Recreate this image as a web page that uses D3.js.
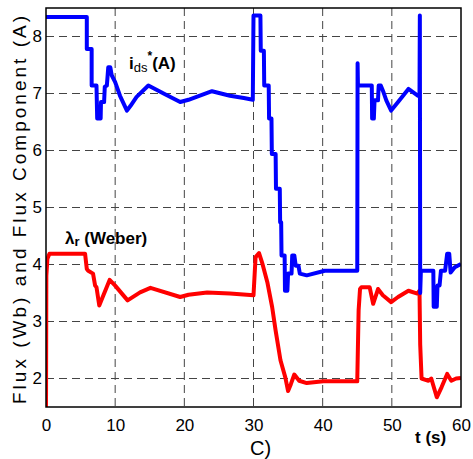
<!DOCTYPE html>
<html>
<head>
<meta charset="utf-8">
<script src="https://cdn.jsdelivr.net/npm/d3@7"></script>
<style>
  html, body { margin: 0; padding: 0; background: #fff; }
  svg { display: block; }
  text { font-family: Arial, "Liberation Sans", sans-serif; }
</style>
</head>
<body>
<svg id="chart" width="473" height="459"></svg>
<script>
// ---- data ----
const xTicks = [0, 10, 20, 30, 40, 50, 60];
const yTicks = [2, 3, 4, 5, 6, 7, 8];

const idsTime = [0, 5.9, 5.9, 6.6, 6.6, 7.3, 7.4, 7.9, 7.95, 8.4, 8.5, 8.8, 9.0, 9.3, 9.5, 10.0, 10.7, 11.7, 12.2, 13.1, 14.8, 17.0, 19.4, 20.6, 24.0, 26.6, 28.6, 29.9,
  30.0, 31.0, 31.05, 31.5, 31.55, 32.2, 32.25, 32.6, 32.65, 33.2, 33.25, 33.8, 33.85, 34.0, 34.05, 34.5, 34.55, 34.9, 35.0, 35.5, 35.6, 35.9, 36.1, 36.5, 36.7, 37.7, 40.3, 45.0,
  45.05, 45.1, 47.1, 47.15, 47.4, 47.5, 48.0, 48.1, 48.4, 48.8, 49.2, 49.9, 50.9, 52.4, 53.8, 54.0, 54.05, 54.1, 54.2, 56.0, 56.05, 56.5, 56.6, 56.9, 57.1, 57.7, 58.0, 58.3, 58.5, 59.1, 60];
const idsValues = [8.34, 8.34, 7.78, 7.78, 7.14, 7.14, 6.56, 6.56, 6.85, 6.85, 7.12, 7.14, 7.46, 7.46, 7.32, 7.2, 6.96, 6.70, 6.78, 6.94, 7.14, 7.0, 6.85, 6.89, 7.04, 6.96, 6.92, 6.89,
  8.37, 8.37, 7.75, 7.75, 7.14, 7.14, 6.56, 6.56, 5.94, 5.94, 5.33, 5.33, 4.74, 4.74, 4.16, 4.16, 3.54, 3.54, 3.84, 3.84, 4.16, 4.16, 3.98, 3.98, 3.84, 3.81, 3.89, 3.89,
  7.53, 7.14, 7.14, 6.56, 6.56, 6.88, 6.88, 7.14, 7.14, 7.02, 6.88, 6.70, 6.85, 7.08, 6.96, 6.96, 8.37, 3.5, 3.89, 3.89, 3.26, 3.26, 3.63, 3.63, 3.89, 3.89, 4.19, 4.19, 3.86, 3.95, 4.01];

const fluxTime = [0, 0.05, 0.2, 0.5, 5.65, 5.9, 6.1, 6.8, 7.1, 7.3, 7.7, 8.3, 8.7, 9.2, 10.0, 11.8, 13.6, 15.1, 19.4, 20.6, 23.3, 26.6, 30.0,
  30.3, 30.8, 31.3, 32.0, 32.7, 33.2, 33.9, 34.6, 35.0, 35.4, 35.9, 36.6, 37.7, 40.1, 45.0, 45.2, 45.4, 45.6, 46.8, 47.3, 48.0, 48.7, 49.9, 50.9, 52.4, 53.7, 54.0,
  54.1, 54.3, 55.3, 55.7, 56.5, 57.2, 58.0, 58.6, 59.3, 60];
const fluxValues = [1.5, 3.8, 4.1, 4.19, 4.19, 3.92, 3.89, 3.84, 3.63, 3.6, 3.28, 3.46, 3.58, 3.73, 3.63, 3.37, 3.51, 3.59, 3.43, 3.47, 3.51, 3.49, 3.46,
  4.13, 4.20, 4.01, 3.69, 3.25, 2.84, 2.32, 2.02, 1.78, 1.90, 2.07, 1.96, 1.92, 1.95, 1.95, 3.2, 3.57, 3.60, 3.60, 3.31, 3.57, 3.46, 3.34, 3.43, 3.54, 3.49, 3.54,
  2.6, 2.0, 1.96, 2.0, 1.67, 1.85, 2.08, 1.96, 2.0, 2.01];

// ---- chart ----
const svg = d3.select("#chart");
const mL = 46, mR = 461, mT = 8, mB = 407;
const x = d3.scaleLinear().domain([0, 60]).range([mL, mR]);
const y = d3.scaleLinear().domain([1.5, 8.5]).range([mB, mT]);

svg.append("defs").append("clipPath").attr("id", "clip")
  .append("rect").attr("x", mL).attr("y", mT).attr("width", mR - mL).attr("height", mB - mT);

// grid
const grid = svg.append("g");
grid.selectAll("line.vx").data(xTicks.slice(1, -1)).join("line")
  .attr("x1", d => x(d)).attr("x2", d => x(d)).attr("y1", mT).attr("y2", mB)
  .attr("stroke", "#444").attr("stroke-width", 1).attr("stroke-dasharray", "8,5");
grid.selectAll("line.hy").data(yTicks).join("line")
  .attr("y1", d => y(d)).attr("y2", d => y(d)).attr("x1", mL).attr("x2", mR)
  .attr("stroke", "#444").attr("stroke-width", 1).attr("stroke-dasharray", "8,5");

// lines
const line = d3.line().x(d => x(d[0])).y(d => y(d[1]));
const g = svg.append("g").attr("clip-path", "url(#clip)");
g.append("path").datum(fluxTime.map((t, i) => [t, fluxValues[i]]))
  .attr("d", line).attr("fill", "none").attr("stroke", "#ff0000").attr("stroke-width", 4).attr("stroke-linejoin", "round");
g.append("path").datum(idsTime.map((t, i) => [t, idsValues[i]]))
  .attr("d", line).attr("fill", "none").attr("stroke", "#0000ff").attr("stroke-width", 4).attr("stroke-linejoin", "round");

// frame
svg.append("rect").attr("x", mL).attr("y", mT).attr("width", mR - mL).attr("height", mB - mT)
  .attr("fill", "none").attr("stroke", "#000").attr("stroke-width", 1.5);

// axes
const xAxis = svg.append("g").attr("transform", `translate(0,${mB})`)
  .call(d3.axisBottom(x).tickValues(xTicks).tickSize(0).tickPadding(12).tickFormat(d3.format("d")));
xAxis.select(".domain").remove();
xAxis.selectAll("text").attr("font-size", 17).attr("fill", "#000").attr("font-family", "Arial, 'Liberation Sans', sans-serif");

const yAxis = svg.append("g").attr("transform", `translate(${mL},0)`)
  .call(d3.axisLeft(y).tickValues(yTicks).tickSize(0).tickPadding(4).tickFormat(d3.format("d")));
yAxis.select(".domain").remove();
yAxis.selectAll("text").attr("font-size", 17).attr("fill", "#000").attr("font-family", "Arial, 'Liberation Sans', sans-serif");

// axis labels
svg.append("text").attr("transform", "translate(26,210) rotate(-90)")
  .attr("text-anchor", "middle").attr("font-size", 19)
  .attr("textLength", 388).attr("lengthAdjust", "spacing")
  .text("Flux (Wb) and Flux Component (A)");

svg.append("text").attr("x", 415).attr("y", 443).attr("font-size", 17).attr("font-weight", "bold").text("t (s)");
svg.append("text").attr("x", 250).attr("y", 455).attr("font-size", 20)
  .attr("font-family", "'Liberation Serif', 'Times New Roman', serif").text("C)");

// annotations
const a1 = svg.append("text").attr("x", 129).attr("y", 69).attr("font-size", 17).attr("font-weight", "bold");
a1.append("tspan").text("i");
a1.append("tspan").attr("font-size", 13).attr("font-weight", "normal").attr("dy", 3).text("ds");
a1.append("tspan").attr("font-size", 12).attr("dy", -12).text("*");
a1.append("tspan").attr("dy", 9).text("(A)");

const a2 = svg.append("text").attr("x", 65).attr("y", 244).attr("font-size", 17).attr("font-weight", "bold");
a2.append("tspan").text("λ");
a2.append("tspan").attr("font-size", 13).attr("dy", 2).text("r");
a2.append("tspan").attr("dy", -2).text(" (Weber)");
</script>
</body>
</html>
